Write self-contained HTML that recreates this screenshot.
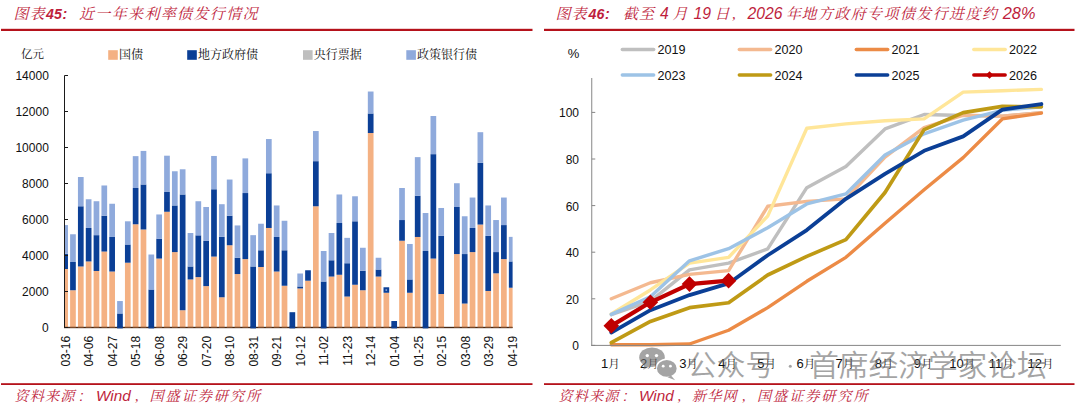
<!DOCTYPE html>
<html lang="zh-CN"><head><meta charset="utf-8"><title>图表45-46</title>
<style>html,body{margin:0;padding:0;background:#fff}body{width:1080px;height:408px;overflow:hidden}svg{display:block}</style></head>
<body>
<svg width="1080" height="408" viewBox="0 0 1080 408">
<defs><clipPath id="lclip"><rect x="64.50" y="60" width="448.10" height="268.00"/></clipPath></defs>
<rect width="1080" height="408" fill="#ffffff"/>
<rect x="1" y="28.8" width="531.5" height="2.2" fill="#B5121B"/>
<rect x="544" y="28.8" width="530.5" height="2.2" fill="#B5121B"/>
<rect x="1" y="383.2" width="531.5" height="1.8" fill="#B5121B"/>
<rect x="544" y="383.2" width="530.5" height="1.8" fill="#B5121B"/>
<text x="13.5" y="18.8" font-size="15" letter-spacing="1.1" font-style="italic" fill="#BE1E3C" style="font-family:'Liberation Serif', 'Noto Serif CJK SC', serif">图表</text>
<text x="46" y="18.8" font-size="14.2" font-weight="bold" font-style="italic" fill="#BE1E3C" style="font-family:'Liberation Sans', 'Noto Sans CJK SC', sans-serif">45</text>
<text x="62.5" y="18.8" font-size="14.2" font-weight="bold" font-style="italic" fill="#BE1E3C" style="font-family:'Liberation Sans', 'Noto Sans CJK SC', sans-serif">:</text>
<text x="79" y="18.8" font-size="15" letter-spacing="1.35" font-style="italic" fill="#BE1E3C" style="font-family:'Liberation Serif', 'Noto Serif CJK SC', serif">近一年来利率债发行情况</text>
<text x="555.5" y="18.8" font-size="15" letter-spacing="1.1" font-style="italic" fill="#BE1E3C" style="font-family:'Liberation Serif', 'Noto Serif CJK SC', serif">图表</text>
<text x="588.5" y="18.8" font-size="14.2" font-weight="bold" font-style="italic" fill="#BE1E3C" style="font-family:'Liberation Sans', 'Noto Sans CJK SC', sans-serif">46</text>
<text x="605" y="18.8" font-size="14.2" font-weight="bold" font-style="italic" fill="#BE1E3C" style="font-family:'Liberation Sans', 'Noto Sans CJK SC', sans-serif">:</text>
<text x="623" y="18.8" font-size="15" letter-spacing="1.1" font-style="italic" fill="#BE1E3C" style="font-family:'Liberation Serif', 'Noto Serif CJK SC', serif">截至</text>
<text x="660" y="18.8" font-size="15.7" font-style="italic" fill="#BE1E3C" style="font-family:'Liberation Sans', 'Noto Sans CJK SC', sans-serif">4</text>
<text x="672.5" y="18.8" font-size="15" letter-spacing="1.1" font-style="italic" fill="#BE1E3C" style="font-family:'Liberation Serif', 'Noto Serif CJK SC', serif">月</text>
<text x="693.5" y="18.8" font-size="15.7" font-style="italic" fill="#BE1E3C" style="font-family:'Liberation Sans', 'Noto Sans CJK SC', sans-serif">19</text>
<text x="714.5" y="18.8" font-size="15" letter-spacing="1.1" font-style="italic" fill="#BE1E3C" style="font-family:'Liberation Serif', 'Noto Serif CJK SC', serif">日</text>
<text x="732" y="18.8" font-size="15" letter-spacing="1.1" font-style="italic" fill="#BE1E3C" style="font-family:'Liberation Serif', 'Noto Serif CJK SC', serif">,</text>
<text x="747.5" y="18.8" font-size="15.7" font-style="italic" fill="#BE1E3C" style="font-family:'Liberation Sans', 'Noto Sans CJK SC', sans-serif">2026</text>
<text x="786" y="18.8" font-size="15" letter-spacing="1.1" font-style="italic" fill="#BE1E3C" style="font-family:'Liberation Serif', 'Noto Serif CJK SC', serif">年</text>
<text x="801.5" y="18.8" font-size="15" letter-spacing="1.4" font-style="italic" fill="#BE1E3C" style="font-family:'Liberation Serif', 'Noto Serif CJK SC', serif">地方政府专项债发行进度约</text>
<text x="1002.8" y="18.8" font-size="16.3" font-style="italic" fill="#BE1E3C" style="font-family:'Liberation Sans', 'Noto Sans CJK SC', sans-serif">28%</text>
<text x="14.5" y="401.3" font-size="14.2" letter-spacing="1.1" font-style="italic" fill="#BE1E3C" style="font-family:'Liberation Serif', 'Noto Serif CJK SC', serif">资料来源</text>
<text x="79.5" y="401.3" font-size="14.5" font-style="italic" fill="#BE1E3C" style="font-family:'Liberation Sans', 'Noto Sans CJK SC', sans-serif">:</text>
<text x="96" y="401.3" font-size="15.3" font-style="italic" fill="#BE1E3C" style="font-family:'Liberation Sans', 'Noto Sans CJK SC', sans-serif">Wind</text>
<text x="135" y="401.3" font-size="14.2" letter-spacing="1.1" font-style="italic" fill="#BE1E3C" style="font-family:'Liberation Serif', 'Noto Serif CJK SC', serif">,</text>
<text x="149.5" y="401.3" font-size="14.2" letter-spacing="1.9" font-style="italic" fill="#BE1E3C" style="font-family:'Liberation Serif', 'Noto Serif CJK SC', serif">国盛证券研究所</text>
<text x="558.5" y="401.3" font-size="14.2" letter-spacing="1.1" font-style="italic" fill="#BE1E3C" style="font-family:'Liberation Serif', 'Noto Serif CJK SC', serif">资料来源</text>
<text x="623.5" y="401.3" font-size="14.5" font-style="italic" fill="#BE1E3C" style="font-family:'Liberation Sans', 'Noto Sans CJK SC', sans-serif">:</text>
<text x="639" y="401.3" font-size="15.3" font-style="italic" fill="#BE1E3C" style="font-family:'Liberation Sans', 'Noto Sans CJK SC', sans-serif">Wind</text>
<text x="677.5" y="401.3" font-size="14.2" letter-spacing="1.1" font-style="italic" fill="#BE1E3C" style="font-family:'Liberation Serif', 'Noto Serif CJK SC', serif">,</text>
<text x="692" y="401.3" font-size="14.2" letter-spacing="1.1" font-style="italic" fill="#BE1E3C" style="font-family:'Liberation Serif', 'Noto Serif CJK SC', serif">新华网</text>
<text x="742" y="401.3" font-size="14.2" letter-spacing="1.1" font-style="italic" fill="#BE1E3C" style="font-family:'Liberation Serif', 'Noto Serif CJK SC', serif">,</text>
<text x="757" y="401.3" font-size="14.2" letter-spacing="1.9" font-style="italic" fill="#BE1E3C" style="font-family:'Liberation Serif', 'Noto Serif CJK SC', serif">国盛证券研究所</text>
<line x1="64.0" y1="327.5" x2="512.6" y2="327.5" stroke="#3a3a3a" stroke-width="1"/>
<g clip-path="url(#lclip)" shape-rendering="auto">
<rect x="62.27" y="269.00" width="5.7" height="59.00" fill="#F4B183"/>
<rect x="62.27" y="253.70" width="5.7" height="15.30" fill="#0B3F96"/>
<rect x="62.27" y="225.08" width="5.7" height="28.62" fill="#8FAADC"/>
<rect x="70.11" y="290.24" width="5.7" height="37.76" fill="#F4B183"/>
<rect x="70.11" y="261.98" width="5.7" height="28.26" fill="#0B3F96"/>
<rect x="70.11" y="234.26" width="5.7" height="27.72" fill="#8FAADC"/>
<rect x="77.94" y="266.48" width="5.7" height="61.52" fill="#F4B183"/>
<rect x="77.94" y="206.27" width="5.7" height="60.21" fill="#0B3F96"/>
<rect x="77.94" y="177.02" width="5.7" height="29.25" fill="#8FAADC"/>
<rect x="85.78" y="261.44" width="5.7" height="66.56" fill="#F4B183"/>
<rect x="85.78" y="227.96" width="5.7" height="33.48" fill="#0B3F96"/>
<rect x="85.78" y="199.25" width="5.7" height="28.71" fill="#8FAADC"/>
<rect x="93.61" y="270.98" width="5.7" height="57.02" fill="#F4B183"/>
<rect x="93.61" y="235.16" width="5.7" height="35.82" fill="#0B3F96"/>
<rect x="93.61" y="201.23" width="5.7" height="33.93" fill="#8FAADC"/>
<rect x="101.44" y="251.54" width="5.7" height="76.46" fill="#F4B183"/>
<rect x="101.44" y="215.72" width="5.7" height="35.82" fill="#0B3F96"/>
<rect x="101.44" y="185.48" width="5.7" height="30.24" fill="#8FAADC"/>
<rect x="109.28" y="271.52" width="5.7" height="56.48" fill="#F4B183"/>
<rect x="109.28" y="236.96" width="5.7" height="34.56" fill="#0B3F96"/>
<rect x="109.28" y="203.75" width="5.7" height="33.21" fill="#8FAADC"/>
<rect x="117.12" y="313.46" width="5.7" height="14.04" fill="#0B3F96"/>
<rect x="117.12" y="301.04" width="5.7" height="12.42" fill="#8FAADC"/>
<rect x="124.95" y="262.70" width="5.7" height="65.30" fill="#F4B183"/>
<rect x="124.95" y="244.52" width="5.7" height="18.18" fill="#0B3F96"/>
<rect x="124.95" y="221.30" width="5.7" height="23.22" fill="#8FAADC"/>
<rect x="132.78" y="224.27" width="5.7" height="103.73" fill="#F4B183"/>
<rect x="132.78" y="188.00" width="5.7" height="36.27" fill="#0B3F96"/>
<rect x="132.78" y="156.14" width="5.7" height="31.86" fill="#8FAADC"/>
<rect x="140.62" y="229.49" width="5.7" height="98.51" fill="#F4B183"/>
<rect x="140.62" y="184.49" width="5.7" height="45.00" fill="#0B3F96"/>
<rect x="140.62" y="150.92" width="5.7" height="33.57" fill="#8FAADC"/>
<rect x="148.46" y="289.52" width="5.7" height="37.98" fill="#0B3F96"/>
<rect x="148.46" y="254.51" width="5.7" height="35.01" fill="#8FAADC"/>
<rect x="156.29" y="258.56" width="5.7" height="69.44" fill="#F4B183"/>
<rect x="156.29" y="238.67" width="5.7" height="19.89" fill="#0B3F96"/>
<rect x="156.29" y="214.46" width="5.7" height="24.21" fill="#8FAADC"/>
<rect x="164.12" y="211.76" width="5.7" height="116.24" fill="#F4B183"/>
<rect x="164.12" y="191.96" width="5.7" height="19.80" fill="#0B3F96"/>
<rect x="164.12" y="155.69" width="5.7" height="36.27" fill="#8FAADC"/>
<rect x="171.96" y="252.08" width="5.7" height="75.92" fill="#F4B183"/>
<rect x="171.96" y="205.46" width="5.7" height="46.62" fill="#0B3F96"/>
<rect x="171.96" y="171.26" width="5.7" height="34.20" fill="#8FAADC"/>
<rect x="179.80" y="310.22" width="5.7" height="17.78" fill="#F4B183"/>
<rect x="179.80" y="194.48" width="5.7" height="115.74" fill="#0B3F96"/>
<rect x="179.80" y="169.28" width="5.7" height="25.20" fill="#8FAADC"/>
<rect x="187.63" y="279.44" width="5.7" height="48.56" fill="#F4B183"/>
<rect x="187.63" y="266.48" width="5.7" height="12.96" fill="#0B3F96"/>
<rect x="187.63" y="233.00" width="5.7" height="33.48" fill="#8FAADC"/>
<rect x="195.47" y="277.10" width="5.7" height="50.90" fill="#F4B183"/>
<rect x="195.47" y="235.34" width="5.7" height="41.76" fill="#0B3F96"/>
<rect x="195.47" y="201.23" width="5.7" height="34.11" fill="#8FAADC"/>
<rect x="203.30" y="286.10" width="5.7" height="41.90" fill="#F4B183"/>
<rect x="203.30" y="240.92" width="5.7" height="45.18" fill="#0B3F96"/>
<rect x="203.30" y="206.99" width="5.7" height="33.93" fill="#8FAADC"/>
<rect x="211.14" y="256.58" width="5.7" height="71.42" fill="#F4B183"/>
<rect x="211.14" y="189.26" width="5.7" height="67.32" fill="#0B3F96"/>
<rect x="211.14" y="155.96" width="5.7" height="33.30" fill="#8FAADC"/>
<rect x="218.97" y="297.26" width="5.7" height="30.74" fill="#F4B183"/>
<rect x="218.97" y="236.78" width="5.7" height="60.48" fill="#0B3F96"/>
<rect x="218.97" y="204.20" width="5.7" height="32.58" fill="#8FAADC"/>
<rect x="226.81" y="245.24" width="5.7" height="82.76" fill="#F4B183"/>
<rect x="226.81" y="215.72" width="5.7" height="29.52" fill="#0B3F96"/>
<rect x="226.81" y="179.54" width="5.7" height="36.18" fill="#8FAADC"/>
<rect x="234.64" y="274.04" width="5.7" height="53.96" fill="#F4B183"/>
<rect x="234.64" y="257.75" width="5.7" height="16.29" fill="#0B3F96"/>
<rect x="234.64" y="225.44" width="5.7" height="32.31" fill="#8FAADC"/>
<rect x="242.48" y="259.10" width="5.7" height="68.90" fill="#F4B183"/>
<rect x="242.48" y="193.04" width="5.7" height="66.06" fill="#0B3F96"/>
<rect x="242.48" y="158.39" width="5.7" height="34.65" fill="#8FAADC"/>
<rect x="250.31" y="266.48" width="5.7" height="61.02" fill="#0B3F96"/>
<rect x="250.31" y="235.16" width="5.7" height="31.32" fill="#8FAADC"/>
<rect x="258.14" y="267.02" width="5.7" height="60.98" fill="#F4B183"/>
<rect x="258.14" y="250.28" width="5.7" height="16.74" fill="#0B3F96"/>
<rect x="258.14" y="223.73" width="5.7" height="26.55" fill="#8FAADC"/>
<rect x="265.98" y="227.96" width="5.7" height="100.04" fill="#F4B183"/>
<rect x="265.98" y="173.24" width="5.7" height="54.72" fill="#0B3F96"/>
<rect x="265.98" y="139.04" width="5.7" height="34.20" fill="#8FAADC"/>
<rect x="273.81" y="271.52" width="5.7" height="56.48" fill="#F4B183"/>
<rect x="273.81" y="236.96" width="5.7" height="34.56" fill="#0B3F96"/>
<rect x="273.81" y="205.46" width="5.7" height="31.50" fill="#8FAADC"/>
<rect x="281.65" y="285.74" width="5.7" height="42.26" fill="#F4B183"/>
<rect x="281.65" y="250.28" width="5.7" height="35.46" fill="#0B3F96"/>
<rect x="281.65" y="220.76" width="5.7" height="29.52" fill="#8FAADC"/>
<rect x="289.49" y="312.20" width="5.7" height="15.30" fill="#0B3F96"/>
<rect x="297.32" y="288.44" width="5.7" height="39.56" fill="#F4B183"/>
<rect x="297.32" y="286.46" width="5.7" height="1.98" fill="#0B3F96"/>
<rect x="297.32" y="273.50" width="5.7" height="12.96" fill="#8FAADC"/>
<rect x="305.15" y="280.70" width="5.7" height="47.30" fill="#F4B183"/>
<rect x="305.15" y="270.26" width="5.7" height="10.44" fill="#0B3F96"/>
<rect x="312.99" y="206.27" width="5.7" height="121.73" fill="#F4B183"/>
<rect x="312.99" y="161.18" width="5.7" height="45.09" fill="#0B3F96"/>
<rect x="312.99" y="131.03" width="5.7" height="30.15" fill="#8FAADC"/>
<rect x="320.82" y="281.51" width="5.7" height="45.99" fill="#0B3F96"/>
<rect x="320.82" y="251.00" width="5.7" height="30.51" fill="#8FAADC"/>
<rect x="328.66" y="276.56" width="5.7" height="51.44" fill="#F4B183"/>
<rect x="328.66" y="260.27" width="5.7" height="16.29" fill="#0B3F96"/>
<rect x="328.66" y="233.00" width="5.7" height="27.27" fill="#8FAADC"/>
<rect x="336.50" y="274.76" width="5.7" height="53.24" fill="#F4B183"/>
<rect x="336.50" y="223.01" width="5.7" height="51.75" fill="#0B3F96"/>
<rect x="336.50" y="194.48" width="5.7" height="28.53" fill="#8FAADC"/>
<rect x="344.33" y="296.54" width="5.7" height="31.46" fill="#F4B183"/>
<rect x="344.33" y="263.24" width="5.7" height="33.30" fill="#0B3F96"/>
<rect x="344.33" y="237.86" width="5.7" height="25.38" fill="#8FAADC"/>
<rect x="352.16" y="284.75" width="5.7" height="43.25" fill="#F4B183"/>
<rect x="352.16" y="221.30" width="5.7" height="63.45" fill="#0B3F96"/>
<rect x="352.16" y="196.28" width="5.7" height="25.02" fill="#8FAADC"/>
<rect x="360.00" y="290.24" width="5.7" height="37.76" fill="#F4B183"/>
<rect x="360.00" y="270.80" width="5.7" height="19.44" fill="#0B3F96"/>
<rect x="360.00" y="247.76" width="5.7" height="23.04" fill="#8FAADC"/>
<rect x="367.83" y="133.01" width="5.7" height="194.99" fill="#F4B183"/>
<rect x="367.83" y="113.48" width="5.7" height="19.53" fill="#0B3F96"/>
<rect x="367.83" y="91.52" width="5.7" height="21.96" fill="#8FAADC"/>
<rect x="375.67" y="276.56" width="5.7" height="51.44" fill="#F4B183"/>
<rect x="375.67" y="269.54" width="5.7" height="7.02" fill="#0B3F96"/>
<rect x="375.67" y="257.75" width="5.7" height="11.79" fill="#8FAADC"/>
<rect x="383.50" y="292.76" width="5.7" height="35.24" fill="#F4B183"/>
<rect x="383.50" y="287.27" width="5.7" height="5.49" fill="#0B3F96"/>
<rect x="385.50" y="289.27" width="1.6" height="1.6" fill="#8FAADC"/>
<rect x="391.34" y="321.02" width="5.7" height="6.48" fill="#0B3F96"/>
<rect x="399.17" y="240.74" width="5.7" height="87.26" fill="#F4B183"/>
<rect x="399.17" y="220.04" width="5.7" height="20.70" fill="#0B3F96"/>
<rect x="399.17" y="188.00" width="5.7" height="32.04" fill="#8FAADC"/>
<rect x="407.01" y="292.76" width="5.7" height="35.24" fill="#F4B183"/>
<rect x="407.01" y="279.44" width="5.7" height="13.32" fill="#0B3F96"/>
<rect x="407.01" y="243.98" width="5.7" height="35.46" fill="#8FAADC"/>
<rect x="414.84" y="236.96" width="5.7" height="91.04" fill="#F4B183"/>
<rect x="414.84" y="195.74" width="5.7" height="41.22" fill="#0B3F96"/>
<rect x="414.84" y="157.13" width="5.7" height="38.61" fill="#8FAADC"/>
<rect x="422.68" y="251.00" width="5.7" height="76.50" fill="#0B3F96"/>
<rect x="422.68" y="213.02" width="5.7" height="37.98" fill="#8FAADC"/>
<rect x="430.51" y="258.56" width="5.7" height="69.44" fill="#F4B183"/>
<rect x="430.51" y="154.16" width="5.7" height="104.40" fill="#0B3F96"/>
<rect x="430.51" y="116.00" width="5.7" height="38.16" fill="#8FAADC"/>
<rect x="438.35" y="294.02" width="5.7" height="33.98" fill="#F4B183"/>
<rect x="438.35" y="235.88" width="5.7" height="58.14" fill="#0B3F96"/>
<rect x="438.35" y="207.98" width="5.7" height="27.90" fill="#8FAADC"/>
<rect x="454.02" y="254.06" width="5.7" height="73.94" fill="#F4B183"/>
<rect x="454.02" y="206.99" width="5.7" height="47.07" fill="#0B3F96"/>
<rect x="454.02" y="183.23" width="5.7" height="23.76" fill="#8FAADC"/>
<rect x="461.85" y="303.56" width="5.7" height="24.44" fill="#F4B183"/>
<rect x="461.85" y="254.06" width="5.7" height="49.50" fill="#0B3F96"/>
<rect x="461.85" y="216.26" width="5.7" height="37.80" fill="#8FAADC"/>
<rect x="469.69" y="252.08" width="5.7" height="75.92" fill="#F4B183"/>
<rect x="469.69" y="227.96" width="5.7" height="24.12" fill="#0B3F96"/>
<rect x="469.69" y="197.54" width="5.7" height="30.42" fill="#8FAADC"/>
<rect x="477.52" y="224.54" width="5.7" height="103.46" fill="#F4B183"/>
<rect x="477.52" y="162.89" width="5.7" height="61.65" fill="#0B3F96"/>
<rect x="477.52" y="132.20" width="5.7" height="30.69" fill="#8FAADC"/>
<rect x="485.36" y="290.96" width="5.7" height="37.04" fill="#F4B183"/>
<rect x="485.36" y="235.88" width="5.7" height="55.08" fill="#0B3F96"/>
<rect x="485.36" y="205.46" width="5.7" height="30.42" fill="#8FAADC"/>
<rect x="493.19" y="273.32" width="5.7" height="54.68" fill="#F4B183"/>
<rect x="493.19" y="252.08" width="5.7" height="21.24" fill="#0B3F96"/>
<rect x="493.19" y="220.04" width="5.7" height="32.04" fill="#8FAADC"/>
<rect x="501.03" y="259.10" width="5.7" height="68.90" fill="#F4B183"/>
<rect x="501.03" y="225.08" width="5.7" height="34.02" fill="#0B3F96"/>
<rect x="501.03" y="197.54" width="5.7" height="27.54" fill="#8FAADC"/>
<rect x="508.86" y="287.72" width="5.7" height="40.28" fill="#F4B183"/>
<rect x="508.86" y="261.44" width="5.7" height="26.28" fill="#0B3F96"/>
<rect x="508.86" y="236.87" width="5.7" height="24.57" fill="#8FAADC"/>
</g>
<line x1="64.5" y1="75.5" x2="64.5" y2="328.0" stroke="#1a1a1a" stroke-width="1"/>
<line x1="64.0" y1="327.5" x2="512.6" y2="327.5" stroke="#4a2208" stroke-width="1.3" opacity="0.72"/>
<line x1="64.5" y1="327.50" x2="68.0" y2="327.50" stroke="#1a1a1a" stroke-width="1"/>
<text transform="translate(48.8,332.20) scale(1,1.09)" font-size="12" text-anchor="end" fill="#111" style="font-family:'Liberation Sans', 'Noto Sans CJK SC', sans-serif">0</text>
<line x1="64.5" y1="291.50" x2="68.0" y2="291.50" stroke="#1a1a1a" stroke-width="1"/>
<text transform="translate(48.8,296.20) scale(1,1.09)" font-size="12" text-anchor="end" fill="#111" style="font-family:'Liberation Sans', 'Noto Sans CJK SC', sans-serif">2000</text>
<line x1="64.5" y1="255.50" x2="68.0" y2="255.50" stroke="#1a1a1a" stroke-width="1"/>
<text transform="translate(48.8,260.20) scale(1,1.09)" font-size="12" text-anchor="end" fill="#111" style="font-family:'Liberation Sans', 'Noto Sans CJK SC', sans-serif">4000</text>
<line x1="64.5" y1="219.50" x2="68.0" y2="219.50" stroke="#1a1a1a" stroke-width="1"/>
<text transform="translate(48.8,224.20) scale(1,1.09)" font-size="12" text-anchor="end" fill="#111" style="font-family:'Liberation Sans', 'Noto Sans CJK SC', sans-serif">6000</text>
<line x1="64.5" y1="183.50" x2="68.0" y2="183.50" stroke="#1a1a1a" stroke-width="1"/>
<text transform="translate(48.8,188.20) scale(1,1.09)" font-size="12" text-anchor="end" fill="#111" style="font-family:'Liberation Sans', 'Noto Sans CJK SC', sans-serif">8000</text>
<line x1="64.5" y1="147.50" x2="68.0" y2="147.50" stroke="#1a1a1a" stroke-width="1"/>
<text transform="translate(48.8,152.20) scale(1,1.09)" font-size="12" text-anchor="end" fill="#111" style="font-family:'Liberation Sans', 'Noto Sans CJK SC', sans-serif">10000</text>
<line x1="64.5" y1="111.50" x2="68.0" y2="111.50" stroke="#1a1a1a" stroke-width="1"/>
<text transform="translate(48.8,116.20) scale(1,1.09)" font-size="12" text-anchor="end" fill="#111" style="font-family:'Liberation Sans', 'Noto Sans CJK SC', sans-serif">12000</text>
<line x1="64.5" y1="75.50" x2="68.0" y2="75.50" stroke="#1a1a1a" stroke-width="1"/>
<text transform="translate(48.8,80.20) scale(1,1.09)" font-size="12" text-anchor="end" fill="#111" style="font-family:'Liberation Sans', 'Noto Sans CJK SC', sans-serif">14000</text>
<rect x="117.12" y="326.50" width="5.7" height="1.9" fill="#0B3F96"/>
<rect x="148.46" y="326.50" width="5.7" height="1.9" fill="#0B3F96"/>
<rect x="250.31" y="326.50" width="5.7" height="1.9" fill="#0B3F96"/>
<rect x="289.49" y="326.50" width="5.7" height="1.9" fill="#0B3F96"/>
<rect x="320.82" y="326.50" width="5.7" height="1.9" fill="#0B3F96"/>
<rect x="391.34" y="326.50" width="5.7" height="1.9" fill="#0B3F96"/>
<rect x="422.68" y="326.50" width="5.7" height="1.9" fill="#0B3F96"/>
<text transform="translate(69.92,335.9) rotate(-90) scale(1,1.1)" font-size="12" text-anchor="end" fill="#111" style="font-family:'Liberation Sans', 'Noto Sans CJK SC', sans-serif">03-16</text>
<text transform="translate(93.42,335.9) rotate(-90) scale(1,1.1)" font-size="12" text-anchor="end" fill="#111" style="font-family:'Liberation Sans', 'Noto Sans CJK SC', sans-serif">04-06</text>
<text transform="translate(116.93,335.9) rotate(-90) scale(1,1.1)" font-size="12" text-anchor="end" fill="#111" style="font-family:'Liberation Sans', 'Noto Sans CJK SC', sans-serif">04-27</text>
<text transform="translate(140.44,335.9) rotate(-90) scale(1,1.1)" font-size="12" text-anchor="end" fill="#111" style="font-family:'Liberation Sans', 'Noto Sans CJK SC', sans-serif">05-18</text>
<text transform="translate(163.94,335.9) rotate(-90) scale(1,1.1)" font-size="12" text-anchor="end" fill="#111" style="font-family:'Liberation Sans', 'Noto Sans CJK SC', sans-serif">06-08</text>
<text transform="translate(187.44,335.9) rotate(-90) scale(1,1.1)" font-size="12" text-anchor="end" fill="#111" style="font-family:'Liberation Sans', 'Noto Sans CJK SC', sans-serif">06-29</text>
<text transform="translate(210.95,335.9) rotate(-90) scale(1,1.1)" font-size="12" text-anchor="end" fill="#111" style="font-family:'Liberation Sans', 'Noto Sans CJK SC', sans-serif">07-20</text>
<text transform="translate(234.46,335.9) rotate(-90) scale(1,1.1)" font-size="12" text-anchor="end" fill="#111" style="font-family:'Liberation Sans', 'Noto Sans CJK SC', sans-serif">08-10</text>
<text transform="translate(257.96,335.9) rotate(-90) scale(1,1.1)" font-size="12" text-anchor="end" fill="#111" style="font-family:'Liberation Sans', 'Noto Sans CJK SC', sans-serif">08-31</text>
<text transform="translate(281.46,335.9) rotate(-90) scale(1,1.1)" font-size="12" text-anchor="end" fill="#111" style="font-family:'Liberation Sans', 'Noto Sans CJK SC', sans-serif">09-21</text>
<text transform="translate(304.97,335.9) rotate(-90) scale(1,1.1)" font-size="12" text-anchor="end" fill="#111" style="font-family:'Liberation Sans', 'Noto Sans CJK SC', sans-serif">10-12</text>
<text transform="translate(328.48,335.9) rotate(-90) scale(1,1.1)" font-size="12" text-anchor="end" fill="#111" style="font-family:'Liberation Sans', 'Noto Sans CJK SC', sans-serif">11-02</text>
<text transform="translate(351.98,335.9) rotate(-90) scale(1,1.1)" font-size="12" text-anchor="end" fill="#111" style="font-family:'Liberation Sans', 'Noto Sans CJK SC', sans-serif">11-23</text>
<text transform="translate(375.49,335.9) rotate(-90) scale(1,1.1)" font-size="12" text-anchor="end" fill="#111" style="font-family:'Liberation Sans', 'Noto Sans CJK SC', sans-serif">12-14</text>
<text transform="translate(398.99,335.9) rotate(-90) scale(1,1.1)" font-size="12" text-anchor="end" fill="#111" style="font-family:'Liberation Sans', 'Noto Sans CJK SC', sans-serif">01-04</text>
<text transform="translate(422.50,335.9) rotate(-90) scale(1,1.1)" font-size="12" text-anchor="end" fill="#111" style="font-family:'Liberation Sans', 'Noto Sans CJK SC', sans-serif">01-25</text>
<text transform="translate(446.00,335.9) rotate(-90) scale(1,1.1)" font-size="12" text-anchor="end" fill="#111" style="font-family:'Liberation Sans', 'Noto Sans CJK SC', sans-serif">02-15</text>
<text transform="translate(469.50,335.9) rotate(-90) scale(1,1.1)" font-size="12" text-anchor="end" fill="#111" style="font-family:'Liberation Sans', 'Noto Sans CJK SC', sans-serif">03-08</text>
<text transform="translate(493.01,335.9) rotate(-90) scale(1,1.1)" font-size="12" text-anchor="end" fill="#111" style="font-family:'Liberation Sans', 'Noto Sans CJK SC', sans-serif">03-29</text>
<text transform="translate(516.51,335.9) rotate(-90) scale(1,1.1)" font-size="12" text-anchor="end" fill="#111" style="font-family:'Liberation Sans', 'Noto Sans CJK SC', sans-serif">04-19</text>
<text x="21" y="57.5" font-size="11.5" fill="#111" style="font-family:'Liberation Serif', 'Noto Serif CJK SC', serif">亿元</text>
<rect x="108.2" y="50.2" width="9.6" height="9.6" fill="#F4B183"/>
<text x="119.0" y="59" font-size="12" fill="#111" style="font-family:'Liberation Serif', 'Noto Serif CJK SC', serif">国债</text>
<rect x="187.2" y="50.2" width="9.6" height="9.6" fill="#0B3F96"/>
<text x="198.0" y="59" font-size="12" fill="#111" style="font-family:'Liberation Serif', 'Noto Serif CJK SC', serif">地方政府债</text>
<rect x="303" y="50.2" width="9.6" height="9.6" fill="#BFBFBF"/>
<text x="313.8" y="59" font-size="12" fill="#111" style="font-family:'Liberation Serif', 'Noto Serif CJK SC', serif">央行票据</text>
<rect x="406.3" y="50.2" width="9.6" height="9.6" fill="#8FAADC"/>
<text x="417.1" y="59" font-size="12" fill="#111" style="font-family:'Liberation Serif', 'Noto Serif CJK SC', serif">政策银行债</text>
<polyline points="611.30,314.64 650.40,301.13 689.50,269.91 728.60,263.15 767.70,248.94 806.80,187.66 845.90,166.46 885.00,128.94 924.10,114.50 963.20,115.43 1002.30,116.13 1041.40,112.63" fill="none" stroke="#BFBFBF" stroke-width="3.4" stroke-linejoin="round" stroke-linecap="round"/>
<polyline points="611.30,298.80 650.40,282.72 689.50,274.33 728.60,270.61 767.70,206.30 806.80,201.41 845.90,198.84 885.00,157.14 924.10,127.54 963.20,115.20 1002.30,116.13 1041.40,112.63" fill="none" stroke="#F4B990" stroke-width="3.4" stroke-linejoin="round" stroke-linecap="round"/>
<polyline points="611.30,344.70 650.40,344.70 689.50,344.00 728.60,330.25 767.70,307.65 806.80,281.32 845.90,257.33 885.00,223.31 924.10,189.76 963.20,157.60 1002.30,118.92 1041.40,113.10" fill="none" stroke="#EC8B46" stroke-width="3.4" stroke-linejoin="round" stroke-linecap="round"/>
<polyline points="611.30,313.94 650.40,289.95 689.50,263.15 728.60,257.33 767.70,216.08 806.80,128.24 845.90,123.82 885.00,120.79 924.10,118.92 963.20,92.13 1002.30,90.73 1041.40,89.33" fill="none" stroke="#FFE699" stroke-width="3.4" stroke-linejoin="round" stroke-linecap="round"/>
<polyline points="611.30,314.41 650.40,296.70 689.50,260.82 728.60,248.70 767.70,227.73 806.80,203.97 845.90,193.95 885.00,155.04 924.10,133.84 963.20,120.09 1002.30,110.30 1041.40,106.81" fill="none" stroke="#9DC3E6" stroke-width="3.4" stroke-linejoin="round" stroke-linecap="round"/>
<polyline points="611.30,342.60 650.40,321.40 689.50,307.65 728.60,302.76 767.70,275.03 806.80,256.39 845.90,239.62 885.00,192.55 924.10,129.64 963.20,112.63 1002.30,106.34 1041.40,106.81" fill="none" stroke="#BF9A15" stroke-width="3.7" stroke-linejoin="round" stroke-linecap="round"/>
<polyline points="611.30,332.58 650.40,310.22 689.50,295.07 728.60,283.42 767.70,255.23 806.80,230.06 845.90,198.84 885.00,173.91 924.10,150.84 963.20,136.40 1002.30,109.60 1041.40,104.01" fill="none" stroke="#0B3F96" stroke-width="3.8" stroke-linejoin="round" stroke-linecap="round"/>
<polyline points="611.30,325.83 650.40,302.29 689.50,284.12 728.60,280.63" fill="none" stroke="#C00000" stroke-width="4.2" stroke-linejoin="round" stroke-linecap="round"/>
<polygon points="603.50,325.83 611.30,318.03 619.10,325.83 611.30,333.63" fill="#C00000"/>
<polygon points="642.60,302.29 650.40,294.49 658.20,302.29 650.40,310.09" fill="#C00000"/>
<polygon points="681.70,284.12 689.50,276.32 697.30,284.12 689.50,291.92" fill="#C00000"/>
<polygon points="720.80,280.63 728.60,272.83 736.40,280.63 728.60,288.43" fill="#C00000"/>
<line x1="591.75" y1="78" x2="591.75" y2="345.9" stroke="#868686" stroke-width="1"/>
<line x1="591.25" y1="345.4" x2="1060.8" y2="345.4" stroke="#868686" stroke-width="1"/>
<line x1="591.75" y1="345.40" x2="595.25" y2="345.40" stroke="#868686" stroke-width="1"/>
<text transform="translate(579,350.40) scale(1,1.07)" font-size="12" text-anchor="end" fill="#111" style="font-family:'Liberation Sans', 'Noto Sans CJK SC', sans-serif">0</text>
<line x1="591.75" y1="298.80" x2="595.25" y2="298.80" stroke="#868686" stroke-width="1"/>
<text transform="translate(579,303.80) scale(1,1.07)" font-size="12" text-anchor="end" fill="#111" style="font-family:'Liberation Sans', 'Noto Sans CJK SC', sans-serif">20</text>
<line x1="591.75" y1="252.20" x2="595.25" y2="252.20" stroke="#868686" stroke-width="1"/>
<text transform="translate(579,257.20) scale(1,1.07)" font-size="12" text-anchor="end" fill="#111" style="font-family:'Liberation Sans', 'Noto Sans CJK SC', sans-serif">40</text>
<line x1="591.75" y1="205.60" x2="595.25" y2="205.60" stroke="#868686" stroke-width="1"/>
<text transform="translate(579,210.60) scale(1,1.07)" font-size="12" text-anchor="end" fill="#111" style="font-family:'Liberation Sans', 'Noto Sans CJK SC', sans-serif">60</text>
<line x1="591.75" y1="159.00" x2="595.25" y2="159.00" stroke="#868686" stroke-width="1"/>
<text transform="translate(579,164.00) scale(1,1.07)" font-size="12" text-anchor="end" fill="#111" style="font-family:'Liberation Sans', 'Noto Sans CJK SC', sans-serif">80</text>
<line x1="591.75" y1="112.40" x2="595.25" y2="112.40" stroke="#868686" stroke-width="1"/>
<text transform="translate(579,117.40) scale(1,1.07)" font-size="12" text-anchor="end" fill="#111" style="font-family:'Liberation Sans', 'Noto Sans CJK SC', sans-serif">100</text>
<text x="610.30" y="368.3" font-size="13" text-anchor="middle" fill="#111" style="font-family:'Liberation Sans', 'Noto Sans CJK SC', sans-serif">1<tspan font-size="11.5" style="font-family:'Liberation Serif', 'Noto Serif CJK SC', serif">月</tspan></text>
<text x="649.40" y="368.3" font-size="13" text-anchor="middle" fill="#111" style="font-family:'Liberation Sans', 'Noto Sans CJK SC', sans-serif">2<tspan font-size="11.5" style="font-family:'Liberation Serif', 'Noto Serif CJK SC', serif">月</tspan></text>
<text x="688.50" y="368.3" font-size="13" text-anchor="middle" fill="#111" style="font-family:'Liberation Sans', 'Noto Sans CJK SC', sans-serif">3<tspan font-size="11.5" style="font-family:'Liberation Serif', 'Noto Serif CJK SC', serif">月</tspan></text>
<text x="727.60" y="368.3" font-size="13" text-anchor="middle" fill="#111" style="font-family:'Liberation Sans', 'Noto Sans CJK SC', sans-serif">4<tspan font-size="11.5" style="font-family:'Liberation Serif', 'Noto Serif CJK SC', serif">月</tspan></text>
<text x="766.70" y="368.3" font-size="13" text-anchor="middle" fill="#111" style="font-family:'Liberation Sans', 'Noto Sans CJK SC', sans-serif">5<tspan font-size="11.5" style="font-family:'Liberation Serif', 'Noto Serif CJK SC', serif">月</tspan></text>
<text x="805.80" y="368.3" font-size="13" text-anchor="middle" fill="#111" style="font-family:'Liberation Sans', 'Noto Sans CJK SC', sans-serif">6<tspan font-size="11.5" style="font-family:'Liberation Serif', 'Noto Serif CJK SC', serif">月</tspan></text>
<text x="844.90" y="368.3" font-size="13" text-anchor="middle" fill="#111" style="font-family:'Liberation Sans', 'Noto Sans CJK SC', sans-serif">7<tspan font-size="11.5" style="font-family:'Liberation Serif', 'Noto Serif CJK SC', serif">月</tspan></text>
<text x="884.00" y="368.3" font-size="13" text-anchor="middle" fill="#111" style="font-family:'Liberation Sans', 'Noto Sans CJK SC', sans-serif">8<tspan font-size="11.5" style="font-family:'Liberation Serif', 'Noto Serif CJK SC', serif">月</tspan></text>
<text x="923.10" y="368.3" font-size="13" text-anchor="middle" fill="#111" style="font-family:'Liberation Sans', 'Noto Sans CJK SC', sans-serif">9<tspan font-size="11.5" style="font-family:'Liberation Serif', 'Noto Serif CJK SC', serif">月</tspan></text>
<text x="962.20" y="368.3" font-size="13" text-anchor="middle" fill="#111" style="font-family:'Liberation Sans', 'Noto Sans CJK SC', sans-serif">10<tspan font-size="11.5" style="font-family:'Liberation Serif', 'Noto Serif CJK SC', serif">月</tspan></text>
<text x="1001.30" y="368.3" font-size="13" text-anchor="middle" fill="#111" style="font-family:'Liberation Sans', 'Noto Sans CJK SC', sans-serif">11<tspan font-size="11.5" style="font-family:'Liberation Serif', 'Noto Serif CJK SC', serif">月</tspan></text>
<text x="1040.40" y="368.3" font-size="13" text-anchor="middle" fill="#111" style="font-family:'Liberation Sans', 'Noto Sans CJK SC', sans-serif">12<tspan font-size="11.5" style="font-family:'Liberation Serif', 'Noto Serif CJK SC', serif">月</tspan></text>
<text x="567.8" y="58" font-size="13" fill="#111" style="font-family:'Liberation Sans', 'Noto Sans CJK SC', sans-serif">%</text>
<line x1="622.3" y1="49.5" x2="653.7" y2="49.5" stroke="#BFBFBF" stroke-width="3.4" stroke-linecap="round"/>
<text x="657.5" y="54.1" font-size="12.6" fill="#111" style="font-family:'Liberation Sans', 'Noto Sans CJK SC', sans-serif">2019</text>
<line x1="739.3" y1="49.5" x2="770.7" y2="49.5" stroke="#F4B990" stroke-width="3.4" stroke-linecap="round"/>
<text x="774.5" y="54.1" font-size="12.6" fill="#111" style="font-family:'Liberation Sans', 'Noto Sans CJK SC', sans-serif">2020</text>
<line x1="856.3" y1="49.5" x2="887.7" y2="49.5" stroke="#EC8B46" stroke-width="3.4" stroke-linecap="round"/>
<text x="891.5" y="54.1" font-size="12.6" fill="#111" style="font-family:'Liberation Sans', 'Noto Sans CJK SC', sans-serif">2021</text>
<line x1="973.8" y1="49.5" x2="1005.2" y2="49.5" stroke="#FFE699" stroke-width="3.4" stroke-linecap="round"/>
<text x="1009.0" y="54.1" font-size="12.6" fill="#111" style="font-family:'Liberation Sans', 'Noto Sans CJK SC', sans-serif">2022</text>
<line x1="622.3" y1="75.0" x2="653.7" y2="75.0" stroke="#9DC3E6" stroke-width="3.4" stroke-linecap="round"/>
<text x="657.5" y="79.6" font-size="12.6" fill="#111" style="font-family:'Liberation Sans', 'Noto Sans CJK SC', sans-serif">2023</text>
<line x1="739.3" y1="75.0" x2="770.7" y2="75.0" stroke="#BF9A15" stroke-width="3.4" stroke-linecap="round"/>
<text x="774.5" y="79.6" font-size="12.6" fill="#111" style="font-family:'Liberation Sans', 'Noto Sans CJK SC', sans-serif">2024</text>
<line x1="856.3" y1="75.0" x2="887.7" y2="75.0" stroke="#0B3F96" stroke-width="3.4" stroke-linecap="round"/>
<text x="891.5" y="79.6" font-size="12.6" fill="#111" style="font-family:'Liberation Sans', 'Noto Sans CJK SC', sans-serif">2025</text>
<line x1="973.8" y1="75.0" x2="1005.2" y2="75.0" stroke="#C00000" stroke-width="3.4" stroke-linecap="round"/>
<polygon points="985.8,75.0 989.5,71.3 993.2,75.0 989.5,78.7" fill="#C00000"/>
<text x="1009.0" y="79.6" font-size="12.6" fill="#111" style="font-family:'Liberation Sans', 'Noto Sans CJK SC', sans-serif">2026</text>
<g opacity="0.62" fill="#6e6e6e">
<ellipse cx="652" cy="357.3" rx="12.8" ry="9.8"/>
<path d="M644.5 363 L643.3 369.8 L650.5 366 Z"/>
<ellipse cx="666.8" cy="368.4" rx="10.6" ry="9.2" stroke="#ffffff" stroke-width="1.5"/>
<path d="M671 375.5 L675.2 380.2 L667.5 377.3 Z"/>
<circle cx="647.3" cy="355.6" r="1.7" fill="#ffffff"/><circle cx="656.5" cy="355.6" r="1.7" fill="#ffffff"/>
<circle cx="663.2" cy="366.2" r="1.4" fill="#ffffff"/><circle cx="670.4" cy="366.2" r="1.4" fill="#ffffff"/>
<text x="687.5" y="375.5" font-size="29" font-weight="350" style="font-family:'Liberation Sans', 'Noto Sans CJK SC', sans-serif">公众号</text>
<circle cx="790.3" cy="366.3" r="1.5"/>
<text x="809.2" y="375.5" font-size="29.7" font-weight="350" style="font-family:'Liberation Sans', 'Noto Sans CJK SC', sans-serif">首席经济学家论坛</text>
</g>
</svg>
</body></html>
